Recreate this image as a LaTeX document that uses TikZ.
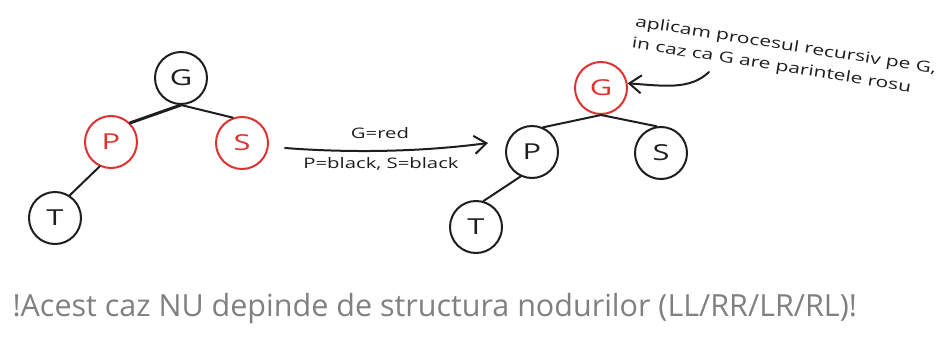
\documentclass[tikz,border=0pt]{standalone}
\usepackage{fontspec}
\setmainfont{Open Sans}
\newfontfamily\handfont[FakeStretch=1.4]{Open Sans}
\usetikzlibrary{arrows.meta}
\definecolor{inkred}{RGB}{224,49,49}
\definecolor{ink}{RGB}{30,30,30}
\definecolor{inkgray}{RGB}{128,128,128}
\begin{document}
\begin{tikzpicture}[x=1pt,y=-1pt,
  nd/.style={circle, draw=ink, text=ink, line width=2pt, minimum size=52pt,
    inner sep=0pt, font=\handfont\fontsize{22}{24}\selectfont},
  rednd/.style={nd, draw=inkred, text=inkred},
  edge/.style={line width=2pt, draw=ink, line cap=round},
  lbl/.style={font=\handfont\fontsize{14.5}{22}\selectfont, text=ink, inner sep=1pt},
  tip/.style={-{Straight Barb[length=12pt,width=18pt,line width=2pt]}}]
\useasboundingbox (0,0) rectangle (941,340);

% tree before recolouring
\node[nd]    (g1) at (181,78)  {G};
\node[rednd] (p1) at (111,142) {P};
\node[rednd] (s1) at (242,143) {S};
\node[nd]    (t1) at (55,218)  {T};
\draw[edge, line width=3pt] (g1.south) -- (p1.45);
\draw[edge] (g1.south) -- (s1.110);
\draw[edge] (p1.245) -- (t1.57);

% transition arrow with the recolouring rule
\coordinate (a1) at (285,148);
\coordinate (a2) at (488,143);
\draw[edge, tip] (a1) .. controls (350,153) and (420,152) .. (a2);
\node[lbl] (r1) at (380,133) {G=red};
\node[lbl] (r2) at (381,164) {P=black, S=black};

% tree after recolouring
\node[rednd] (g2) at (601,88)  {G};
\node[nd]    (p2) at (532,152) {P};
\node[nd]    (s2) at (661,153) {S};
\node[nd]    (t2) at (476,227) {T};
\draw[edge] (g2.south) -- (p2.66);
\draw[edge] (g2.south) -- (s2.99);
\draw[edge] (p2.245) -- (t2.74);

% note on the recursive step, sloping down to the right
\node[lbl, rotate=-9, align=left, font=\handfont\fontsize{15}{22}\selectfont]
  (note) at (784,57)
  {aplicam procesul recursiv pe G,\\in caz ca G are parintele rosu};
\coordinate (n1) at (709,72);
\draw[edge, tip] (n1) .. controls (690,90) and (665,86) .. (g2.10);

% closing remark
\node[anchor=west, text=inkgray, font=\fontsize{30.5}{33}\selectfont] (rem) at (9,309)
  {!Acest caz NU depinde de structura nodurilor (LL/RR/LR/RL)!};
\end{tikzpicture}
\end{document}
